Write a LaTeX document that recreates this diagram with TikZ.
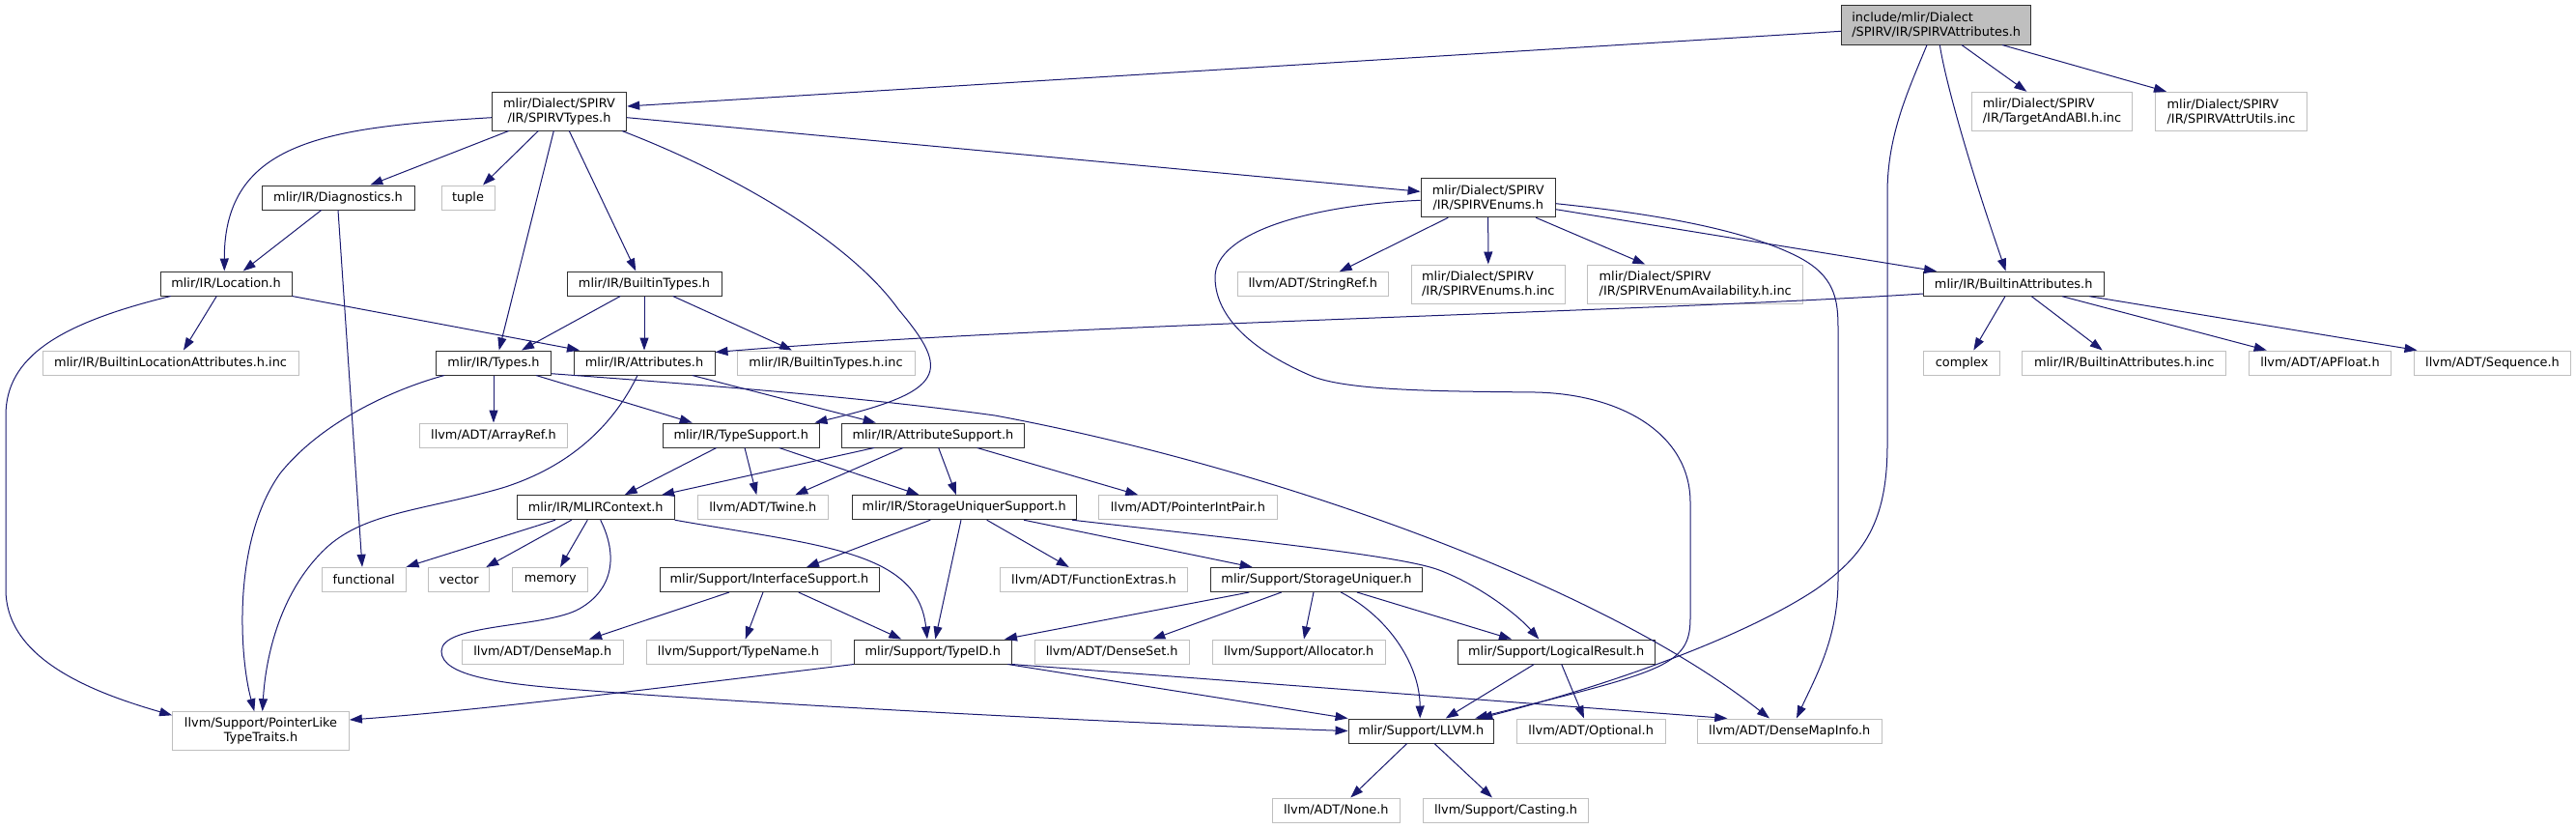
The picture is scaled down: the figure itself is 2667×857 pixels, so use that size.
\documentclass[tikz,border=0pt]{standalone}
\usepackage{fontspec}
\newfontfamily\dvs{DejaVu Sans}
\usetikzlibrary{arrows.meta,calc}
\definecolor{edgec}{HTML}{191970}
\definecolor{greyb}{HTML}{BFBFBF}
\definecolor{boxb}{HTML}{303030}
\tikzset{
  wh/.style 2 args={minimum width=#1*0.5pt, minimum height=#2*0.5pt},
  nd/.style={draw=boxb, line width=0.5pt, rectangle, inner sep=0pt, text=black,
             font=\dvs\fontsize{6.45pt}{7.5pt}\selectfont},
  ext/.style={nd, draw=greyb},
  rootnd/.style={nd, fill=greyb},
  lnk/.style={draw=edgec, line width=0.5pt, -{Triangle[length=6.5pt,width=4.5pt]}, fill=none},
}
\begin{document}
\begin{tikzpicture}[x=0.5pt,y=-0.5pt]
\fill[white] (0,0) rectangle (2667,857);
\useasboundingbox (0,0) rectangle (2667,857);

% nodes
\node[rootnd, wh={196}{40.3}, align=left] (root) at (2004.7,25.9) {include/mlir/Dialect\\/SPIRV/IR/SPIRVAttributes.h};
\node[nd, wh={139.4}{40}, align=center] (spt) at (579,115) {mlir/Dialect/SPIRV\\/IR/SPIRVTypes.h};
\node[ext, wh={165.6}{40}, align=left] (tab) at (2124.5,115.3) {mlir/Dialect/SPIRV\\/IR/TargetAndABI.h.inc};
\node[ext, wh={156.6}{40}, align=left] (atu) at (2310,115.3) {mlir/Dialect/SPIRV\\/IR/SPIRVAttrUtils.inc};
\node[nd, wh={158}{25}] (diag) at (350,204.5) {mlir/IR/Diagnostics.h};
\node[ext, wh={55}{25}] (tuple) at (484.5,204.5) {tuple};
\node[nd, wh={139.3}{40.4}, align=center] (enums) at (1540.7,204.5) {mlir/Dialect/SPIRV\\/IR/SPIRVEnums.h};
\node[nd, wh={136}{25}] (loc) at (234,293.5) {mlir/IR/Location.h};
\node[nd, wh={160}{25}] (btypes) at (667,293.5) {mlir/IR/BuiltinTypes.h};
\node[ext, wh={156.3}{24.6}] (stringref) at (1359.2,294) {llvm/ADT/StringRef.h};
\node[ext, wh={159}{40}, align=left] (enumsinc) at (1540.8,294) {mlir/Dialect/SPIRV\\/IR/SPIRVEnums.h.inc};
\node[ext, wh={223}{40}, align=left] (avail) at (1755.2,294) {mlir/Dialect/SPIRV\\/IR/SPIRVEnumAvailability.h.inc};
\node[nd, wh={186.7}{25}] (battr) at (2084.7,293.7) {mlir/IR/BuiltinAttributes.h};
\node[ext, wh={265}{25}] (bla) at (176.5,375.5) {mlir/IR/BuiltinLocationAttributes.h.inc};
\node[nd, wh={118.6}{25}] (types) at (511,375.5) {mlir/IR/Types.h};
\node[nd, wh={146}{25}] (attrs) at (667,375.5) {mlir/IR/Attributes.h};
\node[ext, wh={184}{25}] (btinc) at (855,375.5) {mlir/IR/BuiltinTypes.h.inc};
\node[ext, wh={79}{25}] (complex) at (2031.2,375.5) {complex};
\node[ext, wh={211}{25}] (bainc) at (2199.2,375.5) {mlir/IR/BuiltinAttributes.h.inc};
\node[ext, wh={146.6}{25}] (apfloat) at (2402,375.5) {llvm/ADT/APFloat.h};
\node[ext, wh={161.6}{25}] (sequence) at (2580.5,375.5) {llvm/ADT/Sequence.h};
\node[ext, wh={153.4}{25}] (arrayref) at (511,450.5) {llvm/ADT/ArrayRef.h};
\node[nd, wh={161.7}{25}] (tsup) at (767.2,450.5) {mlir/IR/TypeSupport.h};
\node[nd, wh={188.3}{25}] (asup) at (965.9,450.5) {mlir/IR/AttributeSupport.h};
\node[nd, wh={162.7}{25}] (ctx) at (616.7,525.2) {mlir/IR/MLIRContext.h};
\node[ext, wh={135}{25}] (twine) at (789.8,525.2) {llvm/ADT/Twine.h};
\node[nd, wh={232.3}{25}] (susup) at (998.2,525.2) {mlir/IR/StorageUniquerSupport.h};
\node[ext, wh={184.3}{25}] (pip) at (1229.9,525.2) {llvm/ADT/PointerIntPair.h};
\node[ext, wh={86.7}{25.4}] (functional) at (376.7,600) {functional};
\node[ext, wh={63}{25}] (vector) at (475.2,600) {vector};
\node[ext, wh={77.7}{25}] (memory) at (569.8,600) {memory};
\node[nd, wh={227}{25}] (isup) at (796.5,600) {mlir/Support/InterfaceSupport.h};
\node[ext, wh={193.6}{25}] (fext) at (1132.5,600) {llvm/ADT/FunctionExtras.h};
\node[nd, wh={218.6}{25}] (su) at (1363,600) {mlir/Support/StorageUniquer.h};
\node[ext, wh={167}{25}] (densemap) at (561.8,674.5) {llvm/ADT/DenseMap.h};
\node[ext, wh={191}{25}] (typename) at (764.5,674.5) {llvm/Support/TypeName.h};
\node[nd, wh={162.7}{25}] (typeid) at (965.7,674.5) {mlir/Support/TypeID.h};
\node[ext, wh={160.3}{25}] (denseset) at (1151.2,674.5) {llvm/ADT/DenseSet.h};
\node[ext, wh={178.7}{25}] (allocator) at (1344.7,674.5) {llvm/Support/Allocator.h};
\node[nd, wh={204.3}{25}] (lres) at (1611.2,674.5) {mlir/Support/LogicalResult.h};
\node[ext, wh={182.7}{40}, align=center] (plt) at (270,756.7) {llvm/Support/PointerLike\\TypeTraits.h};
\node[nd, wh={150.3}{25}] (llvm) at (1471.2,756.5) {mlir/Support/LLVM.h};
\node[ext, wh={153.7}{25}] (optional) at (1647.2,756.5) {llvm/ADT/Optional.h};
\node[ext, wh={191.3}{25}] (dmi) at (1852.7,756.5) {llvm/ADT/DenseMapInfo.h};
\node[ext, wh={132}{25}] (none) at (1383.3,838.5) {llvm/ADT/None.h};
\node[ext, wh={170.7}{25}] (casting) at (1559,838.5) {llvm/Support/Casting.h};

% edges from root
\draw[lnk] ($(root.west)+(0,6.4)$) -- ($(spt.east)+(0,-5)$);
\draw[lnk] ($(root.south)+(26.3,0)$) -- ($(tab.north)+(-26.2,0)$);
\draw[lnk] ($(root.south)+(68.3,0)$) -- ($(atu.north)+(-67,0)$);
\draw[lnk] ($(root.south)+(3.6,0)$) .. controls (2015,90) and (2045,190) .. ($(battr.north)+(-8,0)$);
\draw[lnk] ($(root.south)+(-9.7,0)$) .. controls (1975,95) and (1954,140) .. (1954,200) -- (1954,460) .. controls (1954,540) and (1930,575) .. (1880,610) .. controls (1820,650) and (1700,700) .. ($(llvm.north)+(61,0)$);

% SPIRVTypes
\draw[lnk] ($(spt.east)+(0,6.7)$) -- ($(enums.west)+(0,-6.2)$);
\draw[lnk] ($(spt.west)+(0,6.7)$) .. controls (340,132) and (232,145) .. ($(loc.north)+(-1.7,0)$);
\draw[lnk] ($(spt.south)+(-52.3,0)$) -- ($(diag.north)+(33.3,0)$);
\draw[lnk] ($(spt.south)+(-21.7,0)$) -- ($(tuple.north)+(15.5,0)$);
\draw[lnk] ($(spt.south)+(-5.7,0)$) -- ($(types.north)+(5.7,0)$);
\draw[lnk] ($(spt.south)+(10.3,0)$) -- ($(btypes.north)+(-8.7,0)$);
\draw[lnk] ($(spt.south)+(65,0)$) .. controls (760,180) and (880,250) .. (930,320) .. controls (985,385) and (980,405) .. ($(tsup.north)+(76.3,0)$);

% Diagnostics, Location
\draw[lnk] ($(diag.south)+(-17.3,0)$) -- ($(loc.north)+(17.7,0)$);
\draw[lnk] (diag.south) -- ($(functional.north)+(-1.7,0)$);
\draw[lnk] ($(loc.south)+(-9.7,0)$) -- ($(bla.north)+(13.5,0)$);
\draw[lnk] (loc.south east) -- ($(attrs.north)+(-67,0)$);
\draw[lnk] ($(loc.south)+(-57.3,0)$) .. controls (60,335) and (6,370) .. (6,430) -- (6,610) .. controls (6,680) and (90,715) .. ($(plt.west)+(0,-16.4)$);

% BuiltinTypes
\draw[lnk] ($(btypes.south)+(-24.7,0)$) -- ($(types.north)+(29,0)$);
\draw[lnk] (btypes.south) -- (attrs.north);
\draw[lnk] ($(btypes.south)+(29.7,0)$) -- ($(btinc.north)+(-35,0)$);

% SPIRVEnums
\draw[lnk] ($(enums.south)+(-41.4,0)$) -- ($(stringref.north)+(27.5,0)$);
\draw[lnk] (enums.south) -- (enumsinc.north);
\draw[lnk] ($(enums.south)+(49.3,0)$) -- ($(avail.north)+(-51.9,0)$);
\draw[lnk] ($(enums.east)+(0,12.2)$) -- ($(battr.north)+(-79.7,0)$);
\draw[lnk] ($(enums.east)+(0,6.2)$) .. controls (1700,220) and (1800,235) .. (1860,265) .. controls (1900,285) and (1903,310) .. (1903,340) -- (1903,600) .. controls (1903,660) and (1880,700) .. ($(dmi.north)+(7.3,0)$);
\draw[lnk] ($(enums.west)+(0,2.8)$) .. controls (1360,212) and (1258,240) .. (1258,287) .. controls (1258,330) and (1300,365) .. (1360,390) .. controls (1400,405) and (1500,405) .. (1590,406) .. controls (1680,408) and (1750,450) .. (1750,520) -- (1750,640) .. controls (1750,690) and (1720,695) .. ($(llvm.north)+(56,0)$);

% BuiltinAttributes
\draw[lnk] ($(battr.west)+(0,10.3)$) .. controls (1700,323) and (1100,335) .. ($(attrs.east)+(0,-11)$);
\draw[lnk] ($(battr.south)+(-8.7,0)$) -- ($(complex.north)+(12.1,0)$);
\draw[lnk] ($(battr.south)+(18.6,0)$) -- ($(bainc.north)+(-22.5,0)$);
\draw[lnk] ($(battr.south)+(50.3,0)$) -- ($(apfloat.north)+(-55.3,0)$);
\draw[lnk] ($(battr.south)+(78.6,0)$) -- ($(sequence.north)+(-78,0)$);

% Types
\draw[lnk] (types.south) -- (arrayref.north);
\draw[lnk] ($(types.south)+(44,0)$) -- ($(tsup.north)+(-50.5,0)$);
\draw[lnk] ($(types.east)+(0,11.2)$) .. controls (750,400) and (900,412) .. (1030,430) .. controls (1300,480) and (1650,600) .. ($(dmi.north)+(-20.7,0)$);
\draw[lnk] ($(types.south)+(-51,0)$) .. controls (400,405) and (330,440) .. (290,490) .. controls (240,560) and (248,680) .. ($(plt.north)+(-6.7,0)$);

% Attributes
\draw[lnk] ($(attrs.south)+(49.7,0)$) -- ($(asup.north)+(-59.2,0)$);
\draw[lnk] ($(attrs.south)+(-7,0)$) .. controls (640,430) and (600,480) .. (520,505) .. controls (440,528) and (380,530) .. (340,565) .. controls (290,610) and (275,680) .. ($(plt.north)+(1.7,0)$);

% TypeSupport, AttributeSupport
\draw[lnk] ($(tsup.south)+(-25.5,0)$) -- ($(ctx.north)+(30,0)$);
\draw[lnk] ($(tsup.south)+(3.8,0)$) -- ($(twine.north)+(-6.5,0)$);
\draw[lnk] ($(tsup.south)+(39.5,0)$) -- ($(susup.north)+(-46.5,0)$);
\draw[lnk] ($(asup.south)+(-60.9,0)$) -- ($(ctx.north)+(68.3,0)$);
\draw[lnk] ($(asup.south)+(-30.9,0)$) -- ($(twine.north)+(33.5,0)$);
\draw[lnk] ($(asup.south)+(5.8,0)$) -- ($(susup.north)+(-8.2,0)$);
\draw[lnk] ($(asup.south)+(45.8,0)$) -- ($(pip.north)+(-51.6,0)$);

% MLIRContext
\draw[lnk] ($(ctx.south)+(-41.7,0)$) -- (functional.north east);
\draw[lnk] ($(ctx.south)+(-25,0)$) -- ($(vector.north)+(28.1,0)$);
\draw[lnk] ($(ctx.south)+(-8.4,0)$) -- ($(memory.north)+(10.2,0)$);
\draw[lnk] (ctx.south east) .. controls (850,565) and (950,570) .. ($(typeid.north)+(-5.7,0)$);
\draw[lnk] ($(ctx.south)+(5,0)$) .. controls (640,575) and (635,610) .. (600,630) .. controls (565,650) and (457,645) .. (457,674) .. controls (457,700) and (520,708) .. (600,714) .. controls (800,730) and (1200,750) .. (llvm.west);

% StorageUniquerSupport
\draw[lnk] ($(susup.south)+(-34.9,0)$) -- ($(isup.north)+(38.5,0)$);
\draw[lnk] ($(susup.south)+(-3.2,0)$) -- ($(typeid.north)+(2.6,0)$);
\draw[lnk] ($(susup.south)+(23.5,0)$) -- ($(fext.north)+(-25.8,0)$);
\draw[lnk] ($(susup.south)+(61.8,0)$) -- ($(su.north)+(-66.3,0)$);
\draw[lnk] ($(susup.south)+(111.8,0)$) .. controls (1300,560) and (1450,575) .. (1490,590) .. controls (1530,605) and (1570,635) .. ($(lres.north)+(-17.9,0)$);

% InterfaceSupport
\draw[lnk] ($(isup.south)+(-41.5,0)$) -- ($(densemap.north)+(48.2,0)$);
\draw[lnk] ($(isup.south)+(-6.5,0)$) -- ($(typename.north)+(7.2,0)$);
\draw[lnk] ($(isup.south)+(30.2,0)$) -- ($(typeid.north)+(-32.4,0)$);

% StorageUniquer
\draw[lnk] ($(su.south)+(-69.7,0)$) -- ($(typeid.north)+(74.3,0)$);
\draw[lnk] ($(su.south)+(-36.3,0)$) -- ($(denseset.north)+(42.1,0)$);
\draw[lnk] ($(su.south)+(-3,0)$) -- ($(allocator.north)+(5.3,0)$);
\draw[lnk] ($(su.south)+(25.3,0)$) .. controls (1440,640) and (1470,690) .. ($(llvm.north)+(-1,0)$);
\draw[lnk] ($(su.south)+(42,0)$) -- ($(lres.north)+(-46.2,0)$);

% LogicalResult
\draw[lnk] ($(lres.south)+(-22.9,0)$) -- ($(llvm.north)+(25.5,0)$);
\draw[lnk] ($(lres.south)+(5.5,0)$) -- ($(optional.north)+(-7.2,0)$);

% TypeID
\draw[lnk] (typeid.south west) .. controls (700,710) and (500,735) .. ($(plt.east)+(0,-11.7)$);
\draw[lnk] ($(typeid.south)+(77.6,0)$) -- (llvm.north west);
\draw[lnk] (typeid.south east) -- ($(dmi.north)+(-64.4,0)$);

% LLVM
\draw[lnk] ($(llvm.south)+(-14.5,0)$) -- ($(none.north)+(15,0)$);
\draw[lnk] ($(llvm.south)+(13.8,0)$) -- ($(casting.north)+(-14,0)$);
\end{tikzpicture}
\end{document}
